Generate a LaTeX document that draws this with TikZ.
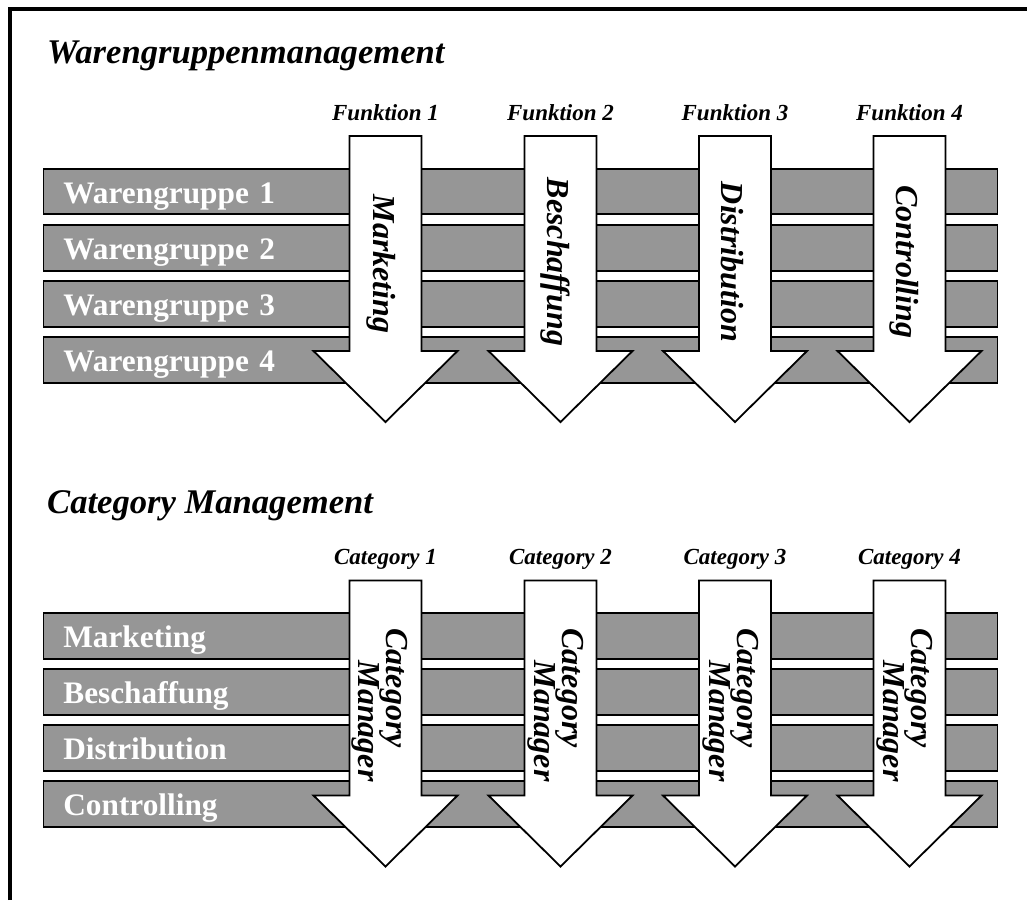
\documentclass[tikz,border=0pt]{standalone}
\usepackage{fontspec}
\setmainfont{Liberation Serif}
\usetikzlibrary{positioning}
\definecolor{bargray}{RGB}{150,150,150}

\begin{document}
\begin{tikzpicture}[x=1pt,y=-1pt,
  wbar/.style={draw,line width=1.8pt,fill=bargray,text=white,anchor=west,
    inner xsep=20pt,inner ysep=0pt,text width=914pt,align=left,
    minimum height=45.5pt,text height=26pt,text depth=3pt,
    font=\fontsize{31.3}{31}\selectfont\bfseries},
  darrow/.style={draw,line width=1.8pt,fill=white,line join=miter},
  hdr/.style={font=\fontsize{23}{23}\selectfont\bfseries\itshape},
  ttl/.style={font=\fontsize{34.6}{34}\selectfont\bfseries\itshape,
    anchor=base west,inner sep=0pt},
  atxt/.style={font=\fontsize{32}{28}\selectfont\bfseries\itshape,
    rotate=-90,align=left,inner sep=0pt}]

  \useasboundingbox (0,0) rectangle (1027,900);
  \draw[line width=4pt] (10,900) -- (10,8.5) -- (1027,8.5);

  % upper part
  \node[ttl] (t1) at (47,63) {Warengruppenmanagement};

  \node[wbar] (wg1) at (42.5,191.5) {Warengruppe 1};
  \node[wbar] (wg2) at (42.5,248) {Warengruppe 2};
  \node[wbar] (wg3) at (42.5,304) {Warengruppe 3};
  \node[wbar] (wg4) at (42.5,360) {Warengruppe 4};

  \coordinate (f1) at (385.5,136);
  \coordinate (f2) at (560.5,136);
  \coordinate (f3) at (735,136);
  \coordinate (f4) at (909.5,136);

  \draw[darrow] (f1) ++(-36,0) -- ++(0,215) -- ++(-36,0) -- ++(72,71) -- ++(72,-71) -- ++(-36,0) -- ++(0,-215) -- cycle;
  \draw[darrow] (f2) ++(-36,0) -- ++(0,215) -- ++(-36,0) -- ++(72,71) -- ++(72,-71) -- ++(-36,0) -- ++(0,-215) -- cycle;
  \draw[darrow] (f3) ++(-36,0) -- ++(0,215) -- ++(-36,0) -- ++(72,71) -- ++(72,-71) -- ++(-36,0) -- ++(0,-215) -- cycle;
  \draw[darrow] (f4) ++(-36,0) -- ++(0,215) -- ++(-36,0) -- ++(72,71) -- ++(72,-71) -- ++(-36,0) -- ++(0,-215) -- cycle;

  \node[hdr,above=16pt of f1,anchor=base] (h1) {Funktion 1};
  \node[hdr,above=16pt of f2,anchor=base] (h2) {Funktion 2};
  \node[hdr,above=16pt of f3,anchor=base] (h3) {Funktion 3};
  \node[hdr,above=16pt of f4,anchor=base] (h4) {Funktion 4};

  \node[atxt] (a1) at (381,264) {Marketing};
  \node[atxt] (a2) at (555,262) {Beschaffung};
  \node[atxt] (a3) at (732,262) {Distribution};
  \node[atxt] (a4) at (904,262) {Controlling};

  % lower part
  \node[ttl] (t2) at (47,513) {Category Management};

  \node[wbar] (fb1) at (42.5,636) {Marketing};
  \node[wbar] (fb2) at (42.5,692) {Beschaffung};
  \node[wbar] (fb3) at (42.5,748) {Distribution};
  \node[wbar] (fb4) at (42.5,804) {Controlling};

  \coordinate (c1) at (385.5,580.5);
  \coordinate (c2) at (560.5,580.5);
  \coordinate (c3) at (735,580.5);
  \coordinate (c4) at (909.5,580.5);

  \draw[darrow] (c1) ++(-36,0) -- ++(0,215) -- ++(-36,0) -- ++(72,71) -- ++(72,-71) -- ++(-36,0) -- ++(0,-215) -- cycle;
  \draw[darrow] (c2) ++(-36,0) -- ++(0,215) -- ++(-36,0) -- ++(72,71) -- ++(72,-71) -- ++(-36,0) -- ++(0,-215) -- cycle;
  \draw[darrow] (c3) ++(-36,0) -- ++(0,215) -- ++(-36,0) -- ++(72,71) -- ++(72,-71) -- ++(-36,0) -- ++(0,-215) -- cycle;
  \draw[darrow] (c4) ++(-36,0) -- ++(0,215) -- ++(-36,0) -- ++(72,71) -- ++(72,-71) -- ++(-36,0) -- ++(0,-215) -- cycle;

  \node[hdr,above=16pt of c1,anchor=base] (k1) {Category 1};
  \node[hdr,above=16pt of c2,anchor=base] (k2) {Category 2};
  \node[hdr,above=16pt of c3,anchor=base] (k3) {Category 3};
  \node[hdr,above=16pt of c4,anchor=base] (k4) {Category 4};

  \node[atxt] (m1) at (380,705) {Category\\\hspace*{1em}Manager};
  \node[atxt] (m2) at (556,705) {Category\\\hspace*{1em}Manager};
  \node[atxt] (m3) at (731,705) {Category\\\hspace*{1em}Manager};
  \node[atxt] (m4) at (905,705) {Category\\\hspace*{1em}Manager};
\end{tikzpicture}
\end{document}
